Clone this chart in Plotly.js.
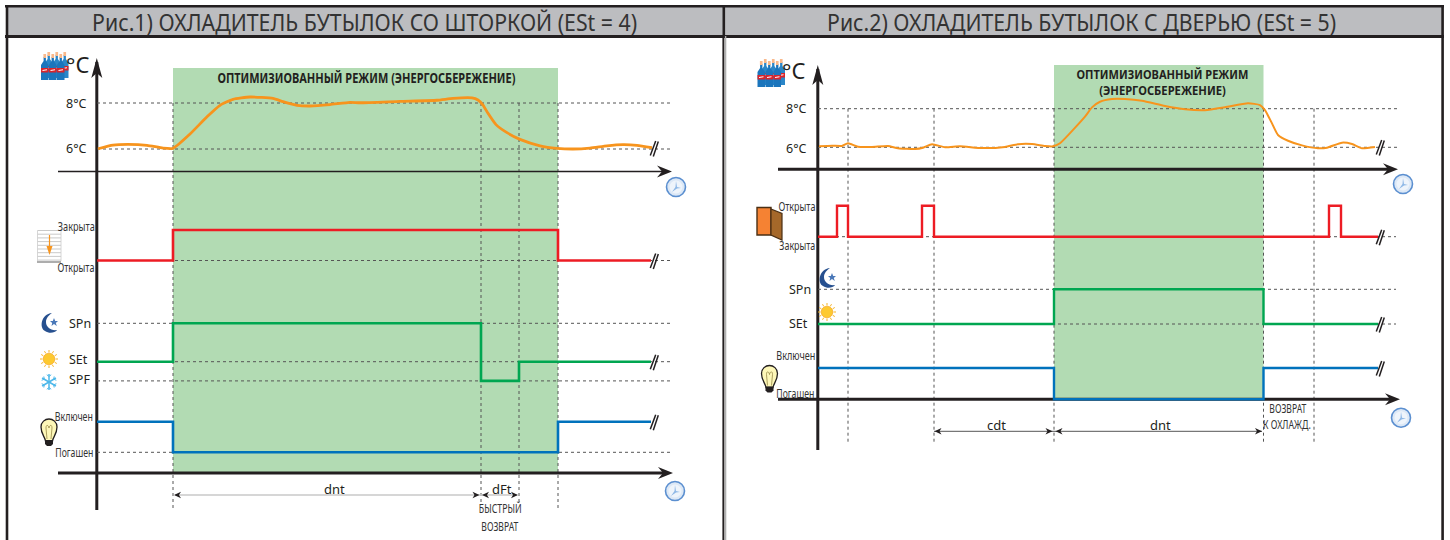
<!DOCTYPE html>
<html><head><meta charset="utf-8">
<script src="https://cdn.plot.ly/plotly-3.0.1.min.js"></script>
<style>html,body{margin:0;padding:0;background:#fff}#c{width:1450px;height:540px}</style>
</head><body><div id="c"></div>
<script>
// ---------- data: panel 1 ----------
const titles = ['Рис.1) ОХЛАДИТЕЛЬ БУТЫЛОК СО ШТОРКОЙ (ESt = 4)', 'Рис.2) ОХЛАДИТЕЛЬ БУТЫЛОК С ДВЕРЬЮ (ESt = 5)'];
const p1TempTime = [1,16,31,50,66,76,93,110,123,136,153,176,186,200,213,233,253,263,303,340,356,375,381,386,391,399,410,423,443,460,476,493,510,526,540,555];
const p1TempC = [6.01,6.17,6.20,6.16,6.04,6.03,6.65,7.40,7.90,8.16,8.26,8.20,8.06,7.90,7.87,7.93,8.03,8.01,8.07,8.12,8.20,8.22,8.13,7.91,7.55,7.06,6.71,6.42,6.14,6.03,6.00,6.04,6.14,6.19,6.16,6.06];
const p1CurtainTime = [0,76,76,461,461,554];
const p1CurtainState = [0,0,1,1,0,0];
const p1SetTime = [0,76,76,384,384,422,422,554];
const p1SetLevel = [0,0,1,1,-0.5,-0.5,0,0];
const p1LightTime = [0,76,76,461,461,554];
const p1LightState = [1,1,0,0,1,1];
// ---------- data: panel 2 ----------
const p2TempTime = [1,14,24,30,40,54,70,80,97,105,114,127,142,164,187,200,214,227,235,242,267,274,282,294,307,324,347,367,387,407,430,442,447,454,460,470,484,500,509,524,534,544,557];
const p2TempC = [6.05,6.08,6.07,6.21,6.03,6.02,6.07,5.95,5.91,5.98,6.16,6.00,6.05,5.96,6.02,6.16,6.17,6.07,6.05,6.21,7.59,8.07,8.36,8.50,8.50,8.41,8.14,7.97,7.92,8.07,8.28,8.19,7.93,7.24,6.64,6.34,6.10,5.95,5.98,6.24,6.17,5.95,6.02];
const p2DoorTime = [0,19,19,30,30,104,104,116,116,511,511,523,523,560];
const p2DoorState = [0,0,1,1,0,0,1,1,0,0,1,1,0,0];
const p2SetTime = [0,236,236,445.5,445.5,560];
const p2SetLevel = [0,0,1,1,0,0];
const p2LightTime = [0,236,236,445.5,445.5,560];
const p2LightState = [1,1,0,0,1,1];
// ---------- event times ----------
const p1Events = [76,384,422,461];
const p2Events = [30,116,236,445.5,496];

const W=1450,H=540;
// axis calibration: every axis spans the page, range comes from two known levels
const yRange=(a,pa,b,pb)=>{const k=(b-a)/(pb-pa);return [a+(H-pa)*k,a+(0-pa)*k];};
const xRange=(ox)=>[-ox,W-ox];
const hidden=r=>({range:r,visible:false,fixedrange:true,domain:[0,1]});
const layout={width:W,height:H,margin:{l:0,r:0,t:0,b:0,pad:0},paper_bgcolor:'#fff',plot_bgcolor:'rgba(0,0,0,0)',showlegend:false,
 xaxis:hidden(xRange(97)),
 xaxis2:{...hidden(xRange(818)),overlaying:'x',anchor:'y'},
 yaxis:hidden(yRange(6,149,8,103))};
const yAxes={y2:yRange(0,260.5,1,230),y3:yRange(0,361.7,1,323.3),y4:yRange(0,452.3,1,421.7),
 y5:yRange(6,147.3,8,108.7),y6:yRange(0,236.7,1,205.7),y7:yRange(0,324,1,289.3),y8:yRange(0,399.3,1,368)};
for(const k in yAxes){const n=k.slice(1);layout['yaxis'+n]={...hidden(yAxes[k]),overlaying:'y',anchor:n>=5?'x2':'x'};}

const ORANGE='#f7941d',RED='#ed1c24',GREEN='#00a651',BLUE='#0072bc',DASH='#555',INK='#231f20';
const traces=[];
const guide=(xa,ya,t1,v)=>traces.push({x:[0,t1],y:[v,v],xaxis:xa,yaxis:ya,mode:'lines',hoverinfo:'skip',line:{color:DASH,width:1,dash:'3px,3px'}});
const series=(xa,ya,x,y,c,w,shape)=>traces.push({x,y,xaxis:xa,yaxis:ya,mode:'lines',hoverinfo:'skip',line:{color:c,width:w,shape:shape||'linear',smoothing:0.5}});
// guides
guide('x','y',574,8);guide('x','y',574,6);
guide('x','y2',574,0);
guide('x','y3',574,1);guide('x','y3',574,0);guide('x','y3',574,-0.5);
guide('x','y4',574,0);
guide('x2','y5',580,8);guide('x2','y5',580,6);
guide('x2','y6',578,0);
guide('x2','y7',578,1);guide('x2','y7',578,0);
// series
series('x','y',p1TempTime,p1TempC,ORANGE,2.8,'spline');
series('x','y2',p1CurtainTime,p1CurtainState,RED,2.6);
series('x','y3',p1SetTime,p1SetLevel,GREEN,2.6);
series('x','y4',p1LightTime,p1LightState,BLUE,2.6);
series('x2','y5',p2TempTime,p2TempC,ORANGE,2,'spline');
series('x2','y6',p2DoorTime,p2DoorState,RED,2.4);
series('x2','y7',p2SetTime,p2SetLevel,GREEN,2.4);
series('x2','y8',p2LightTime,p2LightState,BLUE,2.4);

// ---------- page-pixel helpers for decoration ----------
const fx=x=>x/W,fy=y=>1-y/H;
const shapes=[];
const pp={xref:'paper',yref:'paper'};
const rect=(x0,y0,x1,y1,fill,lay)=>shapes.push({type:'rect',...pp,x0:fx(x0),x1:fx(x1),y0:fy(y0),y1:fy(y1),fillcolor:fill,line:{width:0},layer:lay||'below'});
const seg=(x0,y0,x1,y1,c,w,lay)=>shapes.push({type:'line',...pp,x0:fx(x0),x1:fx(x1),y0:fy(y0),y1:fy(y1),line:{color:c,width:w},layer:lay||'below'});
const pathOf=s=>{let i=0;return s.replace(/-?\d+(\.\d+)?/g,m=>(i++%2===0)?fx(+m).toFixed(6):fy(+m).toFixed(6));};
const poly=(s,fill,lc,lw,lay)=>shapes.push({type:'path',...pp,path:pathOf(s),fillcolor:fill||'rgba(0,0,0,0)',line:{color:lc||'rgba(0,0,0,0)',width:lw||0},layer:lay||'above'});
const circ=(cx,cy,r,fill,lc,lw)=>shapes.push({type:'circle',...pp,x0:fx(cx-r),x1:fx(cx+r),y0:fy(cy+r),y1:fy(cy-r),fillcolor:fill,line:{color:lc||'rgba(0,0,0,0)',width:lw||0},layer:'above'});
const evt=(xa,t,y0,y1)=>shapes.push({type:'line',xref:xa,yref:'paper',x0:t,x1:t,y0:fy(y0),y1:fy(y1),line:{color:DASH,width:1,dash:'3px,3px'},layer:'below'});

// frame + header
rect(7,6,723,36,'#bcbdc0');rect(725,6,1442,36,'#bcbdc0');
seg(5,6.2,1444,6.2,INK,2.6);seg(5,36.5,1444,36.5,INK,2.8);
seg(7,5,7,540,INK,2.6);seg(723.8,5,723.8,36,INK,2.6);seg(723.4,36,723.4,540,INK,2);seg(725.6,36,725.6,540,'#b0b0b0',1.4);
seg(1442.6,5,1442.6,540,INK,2.6);

// optimised-mode bands
shapes.push({type:'rect',xref:'x',yref:'paper',x0:p1Events[0],x1:p1Events[3],y0:fy(68),y1:fy(472),fillcolor:'#b2dbb3',line:{width:0},layer:'below'});
shapes.push({type:'rect',xref:'x2',yref:'paper',x0:p2Events[2],x1:p2Events[3],y0:fy(65),y1:fy(398.5),fillcolor:'#b2dbb3',line:{width:0},layer:'below'});
// event verticals
evt('x',p1Events[0],103,510);evt('x',p1Events[1],103,505);evt('x',p1Events[2],103,503);evt('x',p1Events[3],103,510);
p2Events.forEach(t=>evt('x2',t,108.7,444));

// axes
const arrowUp=(x,y)=>poly(`M ${x} ${y} L ${x+5.5} ${y+20} L ${x} ${y+15} L ${x-5.5} ${y+20} Z`,INK);
const arrowR=(x,y)=>poly(`M ${x} ${y} L ${x-15} ${y-6} L ${x-10} ${y} L ${x-15} ${y+6} Z`,INK);
seg(96.8,62,96.8,510,INK,3);arrowUp(96.8,58);
seg(58,171.5,665,171.5,INK,1.3);arrowR(672,171.5);
seg(58,473,665,473,INK,3);arrowR(673,473);
seg(817.8,69,817.8,450,INK,3);arrowUp(817.8,65);
seg(778,169.3,1390,169.3,INK,3);arrowR(1398,169.3);
seg(778,399.3,1392,399.3,INK,3);arrowR(1400,399.3);

// dimension arrows
const headL=(x,y)=>poly(`M ${x} ${y} L ${x+7} ${y-3.2} L ${x+5} ${y} L ${x+7} ${y+3.2} Z`,INK);
const headR=(x,y)=>poly(`M ${x} ${y} L ${x-7} ${y-3.2} L ${x-5} ${y} L ${x-7} ${y+3.2} Z`,INK);
seg(175,495,517,495,'#c8c8c8',1.6);
headL(174,495);headR(479.5,495);headL(482,495);headR(518,495);
seg(934,431.3,1262,431.3,'#555',1);
headL(934.5,431.3);headR(1052.5,431.3);headL(1055.5,431.3);headR(1262,431.3);

// line-break marks
const brk=(x,y)=>{seg(x-3.7,y+7.5,x+1.7,y-7,INK,1.5,'above');seg(x-0.7,y+8.5,x+4.3,y-6.5,INK,1.5,'above');};
[148,260.5,361.7,421.7].forEach(y=>brk(654,y));
[147,236.7,324,368].forEach(y=>brk(1380,y));

// icons
function clock(x,y){circ(x,y,9.5,'#dce8f6','#5b8fd0',1.6);circ(x,y,6.5,'#eef4fb');
 poly(`M ${x} ${y-6} L ${x+1} ${y} L ${x+5} ${y+1} L ${x+1} ${y+1.5} L ${x-4} ${y+5} L ${x-0.5} ${y} Z`,'#8fb8e6');}
[[676,187],[675,491],[1403,184],[1401,417.7]].forEach(p=>clock(p[0],p[1]));
function bottle(bx,y,body){
  poly(`M ${bx+2.6} ${y+3} L ${bx+4.9} ${y+3} L ${bx+4.9} ${y+7} L ${bx+7.5} ${y+11} L ${bx+7.5} ${y+26} L ${bx} ${y+26} L ${bx} ${y+11} L ${bx+2.6} ${y+7} Z`,body);
  poly(`M ${bx+2.4} ${y} L ${bx+5.1} ${y} L ${bx+5.1} ${y+4} L ${bx+2.4} ${y+4} Z`,'#f9b98c');
  poly(`M ${bx} ${y+14} L ${bx+7.5} ${y+14} L ${bx+7.5} ${y+18.5} L ${bx} ${y+18.5} Z`,'#d9242b');
  poly(`M ${bx+1.5} ${y+16} L ${bx+6} ${y+15.2} L ${bx+6} ${y+16.2} L ${bx+1.5} ${y+17} Z`,'#fff');}
function bottles(x,y){
 [20,12,4].forEach(o=>bottle(x+o,y-1,'#2a86c8'));
 [0,8,16].forEach(o=>bottle(x+o,y+1,'#1b75bc'));}
bottles(41,53);bottles(757.5,60);
function moon(x,y){poly(`M ${x+3} ${y-10} C ${x-8} ${y-9} ${x-10} ${y+5} ${x-4} ${y+8} C ${x} ${y+11} ${x+6} ${y+10} ${x+8} ${y+7} C ${x+2} ${y+8} ${x-3} ${y+4} ${x-3} ${y-1} C ${x-3} ${y-5} ${x} ${y-8} ${x+3} ${y-10} Z`,'#27508f');
 poly(`M ${x+5} ${y-5} L ${x+6.2} ${y-2} L ${x+9} ${y-2} L ${x+6.8} ${y} L ${x+7.8} ${y+3} L ${x+5} ${y+1} L ${x+2.5} ${y+3} L ${x+3.2} ${y} L ${x+1} ${y-2} L ${x+3.8} ${y-2} Z`,'#4a78b8');}
moon(49,323);moon(827,278);
function sun(x,y){for(let a=0;a<12;a++){const r=a*Math.PI/6,c=Math.cos(r),s=Math.sin(r);seg(x+6.5*c,y+6.5*s,x+9*c,y+9*s,'#f5b324',1,'above');}
 circ(x,y,5.8,'#fdc92f','#f39c12',0.6);}
sun(49,359);sun(827,312);
function snow(x,y){for(let a=0;a<3;a++){const r=a*Math.PI/3+Math.PI/2,c=Math.cos(r),s=Math.sin(r);
  seg(x-8*c,y-8*s,x+8*c,y+8*s,'#4db8ea',1.5,'above');
  [1,-1].forEach(d=>{const mx=x+d*5.5*c,my=y+d*5.5*s;
   seg(mx,my,mx+d*2.8*Math.cos(r+0.9),my+d*2.8*Math.sin(r+0.9),'#4db8ea',1,'above');
   seg(mx,my,mx+d*2.8*Math.cos(r-0.9),my+d*2.8*Math.sin(r-0.9),'#4db8ea',1,'above');});}}
snow(49,382);
function bulb(x,y){poly(`M ${x-3.5} ${y+8} C ${x-4} ${y+4} ${x-8} ${y+1} ${x-8} ${y-6} C ${x-8} ${y-11} ${x-4} ${y-14} ${x} ${y-14} C ${x+4} ${y-14} ${x+8} ${y-11} ${x+8} ${y-6} C ${x+8} ${y+1} ${x+4} ${y+4} ${x+3.5} ${y+8} Z`,'#fdf7b8',INK,1.3);
 poly(`M ${x-2} ${y+6} L ${x-3} ${y-5} C ${x-3} ${y-9} ${x-0.5} ${y-8} ${x} ${y-5} C ${x+0.5} ${y-8} ${x+3} ${y-9} ${x+3} ${y-5} L ${x+2} ${y+6}`,null,'#8a7a3a',0.7);
 poly(`M ${x-4} ${y+7} L ${x+4} ${y+7} L ${x+4} ${y+11} L ${x+2} ${y+13} L ${x-2} ${y+13} L ${x-4} ${y+11} Z`,INK);}
bulb(49,433);bulb(769.5,379.5);
// curtain
(function(){rect(37.5,230.5,61,261,'#fff','above');for(let y=230.5;y<261;y+=3.7)seg(37.5,y,61,y,'#bbb',0.8,'above');
 seg(37.5,230.5,37.5,261,'#ccc',0.8,'above');seg(61,230.5,61,261,'#ccc',0.8,'above');seg(37,262,61,262,'#777',1.2,'above');
 seg(49.5,235,49.5,250,ORANGE,1.2,'above');poly('M 49.5 255 L 46.5 246 L 52.5 246 Z',ORANGE);})();
// door
poly('M 757 207.5 L 771 207.5 L 771 235 L 757 235 Z','#f58233','#4a2f14',1.4);
poly('M 771 209 L 782 213.5 L 782 240 L 771 235 Z','#a5682a','#4a2f14',1.2);

// ---------- texts ----------
const FONT='"Noto Sans", sans-serif';
const ann=[],fits=[];
const txt=(t,x,y,size,anchor,color)=>{ann.push({text:t,xref:'paper',yref:'paper',x:fx(x),y:fy(y),xanchor:anchor||'center',yanchor:'middle',showarrow:false,font:{family:FONT,size,color:color||INK}});fits.push(0);};
// condensed label: centred at x and fitted to the width the reference shows
const fit=(t,x,y,size,w,bold,color)=>{ann.push({text:t,xref:'paper',yref:'paper',x:fx(x),y:fy(y),xanchor:'center',yanchor:'middle',showarrow:false,font:{family:FONT,size,color:color||'#333',weight:bold?700:400}});fits.push(w);};
fit(titles[0],364.5,21.5,23,545,false,'#333');fit(titles[1],1081.5,21.5,23,509,false,'#333');
const modeHead='ОПТИМИЗИОВАННЫЙ РЕЖИМ',modeSub='(ЭНЕРГОСБЕРЕЖЕНИЕ)';
fit(modeHead+' '+modeSub,366,78,13.5,298,true,INK);
fit(modeHead+'<br>'+modeSub,1162.5,83,12,[172,126.7],true,INK);
txt('°C',90.5,64,22,'right');txt('°C',807.5,70,22,'right');
txt('8°C',88.5,103,12.5,'right');txt('6°C',88.5,148.5,12.5,'right');
txt('8°C',808.5,108.7,12.5,'right');txt('6°C',808.5,148,12.5,'right');
fit('Закрыта',76.7,226,12,37);fit('Открыта',75.7,267,12,37);
txt('SPn',66.5,323,12.5,'left');txt('SEt',66.5,359,12.5,'left');txt('SPF',66.5,379,12.5,'left');
fit('Включен',74,416,12,38);fit('Погашен',74,452.7,12,38);
fit('Открыта',796.7,206,12,37);fit('Закрыта',798,245,12,36);
txt('SPn',786.5,289,12.5,'left');txt('SEt',786.5,323.5,12.5,'left');
fit('Включен',795.5,355.7,12,39);fit('Погашен',795,393,12,38);
txt('dnt',334,488.5,13);txt('dFt',502,488.5,13);
fit('БЫСТРЫЙ',500,509,12,43);fit('ВОЗВРАТ',500,526,12,37);
txt('cdt',996.7,425,13);txt('dnt',1160,425,13);
fit('ВОЗВРАТ',1287.7,408.7,12,37);fit('К ОХЛАЖД.',1287,424.3,12,48);
layout.shapes=shapes;layout.annotations=ann;
Plotly.newPlot('c',traces,layout,{staticPlot:true,displayModeBar:false}).then(gd=>{
 gd.querySelectorAll('.annotation').forEach(g=>{const w=fits[+g.getAttribute('data-index')];if(!w)return;
  const t=g.querySelector('.annotation-text');
  if(Array.isArray(w)){ // two-line heading: fit each line to its measured width
   t.querySelectorAll('tspan.line').forEach((l,i)=>{l.setAttribute('textLength',w[i]);l.setAttribute('lengthAdjust','spacingAndGlyphs');});
  } else {t.setAttribute('textLength',w);t.setAttribute('lengthAdjust','spacingAndGlyphs');}
 });
});
</script></body></html>
